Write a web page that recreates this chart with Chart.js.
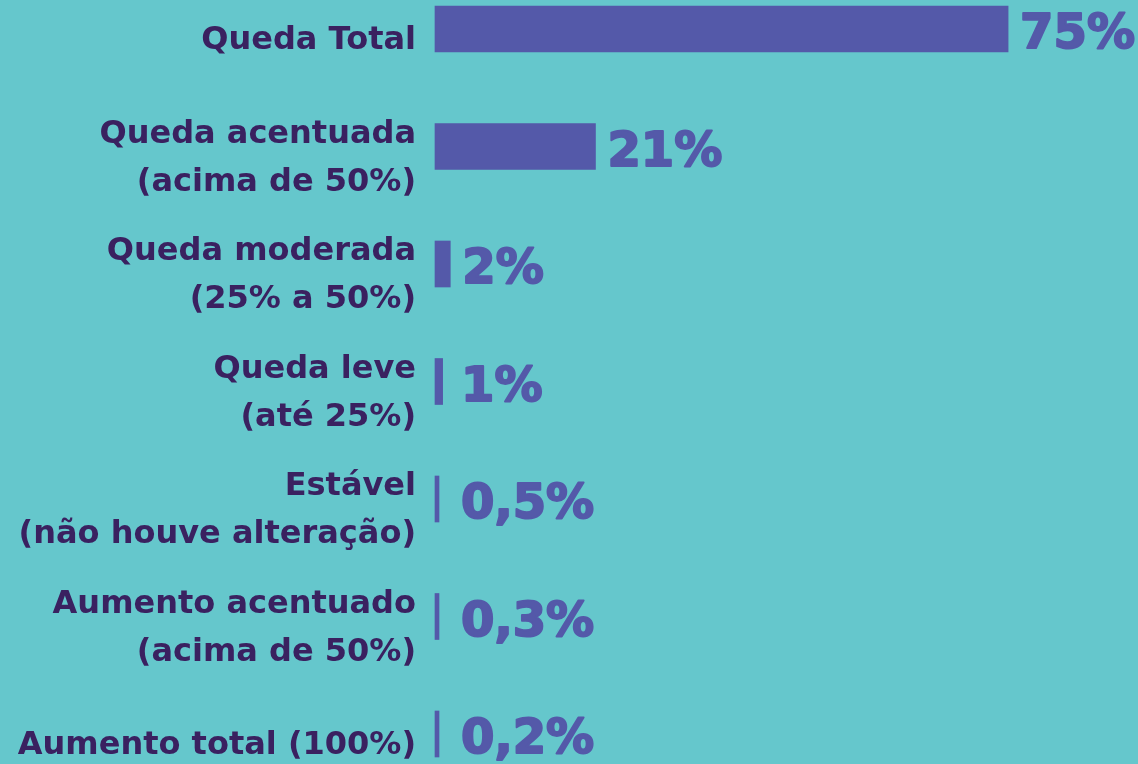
<!DOCTYPE html>
<html>
<head>
<meta charset="utf-8">
<script src="https://cdn.jsdelivr.net/npm/chart.js@4"></script>
<style>
  html, body { margin: 0; padding: 0; background: #65c7cc; }
  #wrap { width: 1138px; height: 764px; }
</style>
</head>
<body>
<div id="wrap"><canvas id="chart"></canvas></div>
<script>
// categories (multi-line labels) and values in %
const categories = [
  ["Queda Total"],
  ["Queda acentuada", "(acima de 50%)"],
  ["Queda moderada", "(25% a 50%)"],
  ["Queda leve", "(até 25%)"],
  ["Estável", "(não houve alteração)"],
  ["Aumento acentuado", "(acima de 50%)"],
  ["Aumento total (100%)"]
];
const values = [75, 21, 2, 1, 0.5, 0.3, 0.2];

const barColor = "#5459a9";
const labelColor = "#3a2160";

// draw the percentage next to each bar
const valueLabels = {
  id: "valueLabels",
  afterDatasetsDraw(chart) {
    const ctx = chart.ctx;
    const meta = chart.getDatasetMeta(0);
    ctx.save();
    ctx.font = "bold 48px 'DejaVu Sans'";
    ctx.fillStyle = barColor;
    ctx.strokeStyle = barColor;
    ctx.lineWidth = 2;
    ctx.lineJoin = "round";
    ctx.textBaseline = "middle";
    ctx.textAlign = "left";
    meta.data.forEach((bar, i) => {
      const txt = String(values[i]).replace(".", ",") + "%";
      const x = Math.max(bar.x + 12, 461);
      ctx.fillText(txt, x, bar.y + 7);
      ctx.strokeText(txt, x, bar.y + 7);
    });
    ctx.restore();
  }
};

new Chart(document.getElementById("chart"), {
  type: "bar",
  data: {
    labels: categories,
    datasets: [{
      data: values,
      backgroundColor: barColor,
      barThickness: 46,
      minBarLength: 4,
      clip: false
    }]
  },
  options: {
    indexAxis: "y",
    responsive: true,
    maintainAspectRatio: false,
    animation: false,
    layout: { padding: { top: 29, bottom: 30, left: 0, right: 0 } },
    plugins: {
      legend: { display: false },
      tooltip: { enabled: false }
    },
    scales: {
      x: {
        display: false,
        min: 0,
        max: 92
      },
      y: {
        offset: false,
        grid: { display: false, drawTicks: false },
        border: { display: false },
        ticks: {
          color: labelColor,
          font: { family: "'DejaVu Sans'", size: 32, weight: "bold", lineHeight: 1.5 },
          padding: 19,
          labelOffset: 12,
          autoSkip: false
        },
        afterFit(scale) {
          scale.width = 435;
          scale.paddingTop = 0;
          scale.paddingBottom = 0;
        }
      }
    }
  },
  plugins: [valueLabels]
});
</script>
</body>
</html>
